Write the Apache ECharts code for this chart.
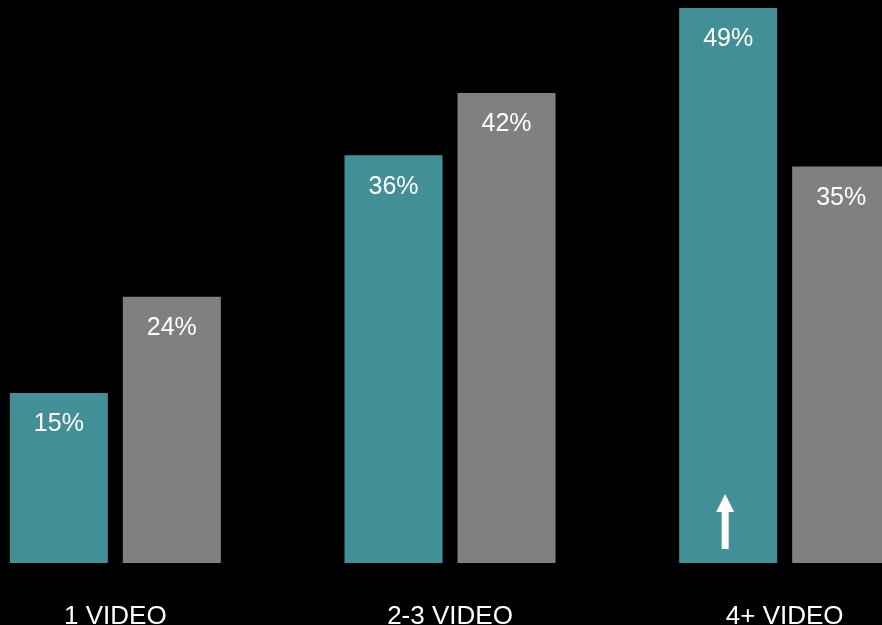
<!DOCTYPE html>
<html>
<head>
<meta charset="utf-8">
<script src="https://cdn.jsdelivr.net/npm/echarts@6/dist/echarts.min.js"></script>
<style>
html,body{margin:0;padding:0;background:#000;}
#chart{width:882px;height:625px;}
</style>
</head>
<body>
<div id="chart"></div>
<script>
var categories = ['1 VIDEO', '2-3 VIDEO', '4+ VIDEO'];
var seriesA = [15, 36, 49];
var seriesB = [23.5, 41.5, 35];
var labelsA = ['15%', '36%', '49%'];
var labelsB = ['24%', '42%', '35%'];
var arrowAt = [2, 3.67];

var chart = echarts.init(document.getElementById('chart'));
var font = 'Liberation Sans, Arial, sans-serif';
chart.setOption({
  backgroundColor: '#000000',
  animation: false,
  grid: { left: -52, width: 1004, top: 8, bottom: 62, containLabel: false, outerBoundsMode: 'none' },
  xAxis: {
    type: 'category',
    data: categories,
    axisLine: { show: false },
    axisTick: { show: false },
    axisLabel: { color: '#ffffff', fontSize: 26, fontFamily: font, margin: 41 }
  },
  yAxis: {
    type: 'value', min: 0, max: 49,
    show: false,
    splitLine: { show: false }
  },
  series: [
    {
      type: 'bar',
      data: seriesA,
      barWidth: 98,
      barGap: '15.3%',
      itemStyle: { color: '#438F97' },
      label: {
        show: true, position: 'insideTop', distance: 19,
        color: '#ffffff', fontSize: 25, fontFamily: font,
        formatter: function (p) { return labelsA[p.dataIndex]; }
      },
      markPoint: {
        silent: true,
        data: [{
          coord: arrowAt,
          symbol: 'path://M9,0 L18,18 L12.5,18 L12.5,55 L5.5,55 L5.5,18 L0,18 Z',
          symbolSize: [18, 55],
          symbolOffset: [-3, 0],
          itemStyle: { color: '#ffffff' },
          label: { show: false }
        }]
      }
    },
    {
      type: 'bar',
      data: seriesB,
      barWidth: 98,
      barGap: '15.3%',
      itemStyle: { color: '#808080' },
      label: {
        show: true, position: 'insideTop', distance: 19,
        color: '#ffffff', fontSize: 25, fontFamily: font,
        formatter: function (p) { return labelsB[p.dataIndex]; }
      }
    }
  ]
});
</script>
</body>
</html>
